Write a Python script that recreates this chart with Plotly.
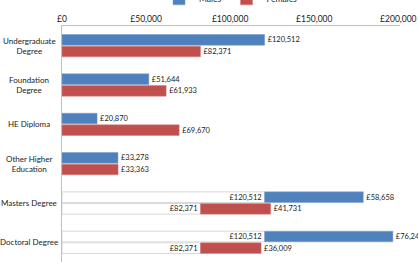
import plotly.graph_objects as go

categories = ["Undergraduate Degree", "Foundation Degree", "HE Diploma",
              "Other Higher Education", "Masters Degree", "Doctoral Degree"]
category_labels = ["Undergraduate<br>Degree", "Foundation<br>Degree", "HE Diploma",
                   "Other Higher<br>Education", "Masters Degree", "Doctoral Degree"]
males = [120512, 51644, 20870, 33278, 58658, 76249]
females = [82371, 61933, 69670, 33363, 41731, 36009]
# base (undergraduate) values used as offsets for postgraduate rows
male_base = [0, 0, 0, 0, 120512, 120512]
female_base = [0, 0, 0, 0, 82371, 82371]
tick_vals = [0, 50000, 100000, 150000, 200000]
tick_text = ["£0", "£50,000", "£100,000", "£150,000", "£200,000"]

BLUE = "#4F81BD"
RED = "#C0504D"
TXT = "#222222"
FONT = "Lato"

def fmt(v):
    return "£{:,}".format(v)

fig = go.Figure()

# white base bars
fig.add_trace(go.Bar(
    y=categories, x=[b if b else None for b in male_base], orientation="h",
    offsetgroup="m", marker=dict(color="white", line=dict(color="#D9D9D9", width=1)),
    text=[fmt(b) if b else "" for b in male_base], textposition="inside",
    insidetextanchor="end", textfont=dict(size=7.5, color=TXT, family=FONT),
    showlegend=False, hoverinfo="skip"))
fig.add_trace(go.Bar(
    y=categories, x=[b if b else None for b in female_base], orientation="h",
    offsetgroup="f", marker=dict(color="white", line=dict(color="#D9D9D9", width=1)),
    text=[fmt(b) if b else "" for b in female_base], textposition="inside",
    insidetextanchor="end", textfont=dict(size=7.5, color=TXT, family=FONT),
    showlegend=False, hoverinfo="skip"))

fig.add_trace(go.Bar(
    name="Males", y=categories, x=males, base=male_base, orientation="h",
    offsetgroup="m", marker=dict(color=BLUE, line=dict(color="#7A9CCB", width=0.5)),
    text=[fmt(v) for v in males], textposition="outside",
    textfont=dict(size=7.5, color=TXT, family=FONT), cliponaxis=False))
fig.add_trace(go.Bar(
    name="Females", y=categories, x=females, base=female_base, orientation="h",
    offsetgroup="f", marker=dict(color=RED, line=dict(color="#D27F7D", width=0.5)),
    text=[fmt(v) for v in females], textposition="outside",
    textfont=dict(size=7.5, color=TXT, family=FONT), cliponaxis=False))

# centred category labels
for cat, lab in zip(categories, category_labels):
    fig.add_annotation(x=-33 / 338, xref="paper", y=cat, yref="y", text=lab,
                       showarrow=False, align="center", xanchor="center",
                       font=dict(size=8, family=FONT, color=TXT))

fig.update_layout(
    width=418, height=270,
    margin=dict(l=62, r=18, t=26, b=8, autoexpand=False),
    paper_bgcolor="white", plot_bgcolor="white",
    barmode="group", bargap=0.41, bargroupgap=0.08,
    font=dict(family=FONT, size=8.5, color=TXT),
    uniformtext=dict(mode="show", minsize=7.5),
    legend=dict(orientation="h", x=0.5, xanchor="center", y=1.115, yanchor="middle",
                font=dict(size=8.5, family=FONT, color=TXT), traceorder="normal",
                tracegroupgap=0),
    xaxis=dict(side="top", range=[0, 201000], tickvals=tick_vals, ticktext=tick_text,
               showgrid=False, zeroline=False, showline=True, linecolor="#BFBFBF",
               linewidth=1, ticks="", ticklabeloverflow="allow",
               tickfont=dict(size=8.5, family=FONT, color=TXT)),
    yaxis=dict(autorange="reversed", showgrid=False, showline=True, linecolor="#BFBFBF",
               linewidth=1, ticks="", showticklabels=False),
)

fig.write_html("out.html")
